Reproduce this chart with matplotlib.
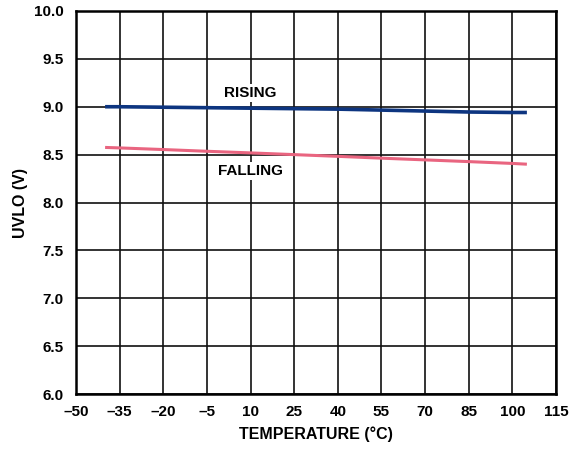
import matplotlib
matplotlib.use("Agg")
import matplotlib.pyplot as plt

temp = [-40, -35, -20, -5, 10, 25, 40, 55, 70, 85, 100, 105]
rising = [9.00, 9.00, 8.995, 8.99, 8.985, 8.98, 8.975, 8.965, 8.955, 8.945, 8.94, 8.94]
falling = [8.575, 8.57, 8.553, 8.535, 8.518, 8.50, 8.482, 8.463, 8.445, 8.427, 8.408, 8.40]
xticks = [-50, -35, -20, -5, 10, 25, 40, 55, 70, 85, 100, 115]
xticklabels = ["\u201350", "\u201335", "\u201320", "\u20135", "10", "25", "40", "55", "70", "85", "100", "115"]
yticks = [6.0, 6.5, 7.0, 7.5, 8.0, 8.5, 9.0, 9.5, 10.0]

plt.rcParams['font.family'] = ['Liberation Sans', 'DejaVu Sans']
fig = plt.figure(figsize=(5.82, 4.5), dpi=100)
ax = fig.add_axes([0.1306, 0.1244, 0.8247, 0.8512])

ax.plot(temp, rising, color='#0d3580', lw=2.6, solid_capstyle='butt', zorder=3)
ax.plot(temp, falling, color='#e96580', lw=2.2, solid_capstyle='butt', zorder=3)

ax.set_xlim(-50, 115)
ax.set_ylim(6.0, 10.0)
ax.set_xticks(xticks)
ax.set_xticklabels(xticklabels)
ax.set_yticks(yticks)
ax.set_yticklabels([f"{v:.1f}" for v in yticks])
ax.grid(True, color='#111111', lw=1.2, zorder=0)
ax.tick_params(axis='x', length=0, pad=8, labelsize=11)
ax.tick_params(axis='y', length=0, pad=9, labelsize=11)
for lab in ax.get_xticklabels() + ax.get_yticklabels():
    lab.set_fontweight('bold')
for s in ax.spines.values():
    s.set_linewidth(1.8)
    s.set_color('black')

ax.text(10, 9.14, "RISING", ha='center', va='center', fontsize=11, fontweight='bold',
        bbox=dict(facecolor='white', edgecolor='none', pad=1.5), zorder=4)
ax.text(10, 8.33, "FALLING", ha='center', va='center', fontsize=11, fontweight='bold',
        bbox=dict(facecolor='white', edgecolor='none', pad=1.5), zorder=4)

ax.set_xlabel("TEMPERATURE (\u00b0C)", fontsize=11.5, fontweight='bold', labelpad=5)
ax.set_ylabel("UVLO (V)", fontsize=11.5, fontweight='bold', labelpad=4)

fig.savefig("out.png", dpi=100)
